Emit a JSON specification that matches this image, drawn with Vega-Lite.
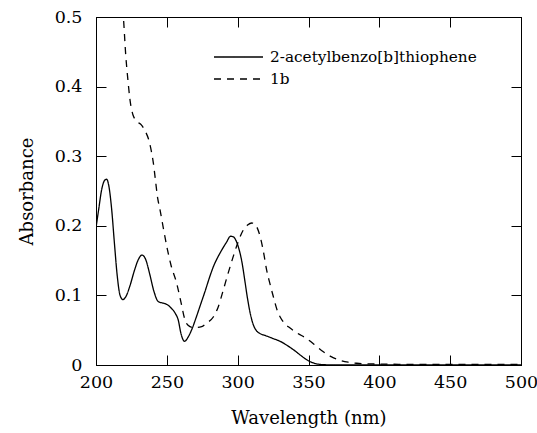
{
  "$schema": "https://vega.github.io/schema/vega-lite/v6.json",
  "width": 425,
  "height": 348,
  "autosize": {"type": "none"},
  "padding": {"left": 96, "top": 17, "right": 16, "bottom": 68},
  "background": "white",
  "config": {
    "view": {"stroke": "black", "strokeWidth": 1},
    "font": "DejaVu Serif",
    "axis": {
      "grid": false,
      "domainColor": "black",
      "tickColor": "black",
      "labelColor": "black",
      "titleColor": "black",
      "labelFont": "DejaVu Serif",
      "titleFont": "DejaVu Serif",
      "labelFontSize": 17.5,
      "titleFontSize": 18,
      "titleFontWeight": "normal",
      "tickSize": -10,
      "domainWidth": 1,
      "tickWidth": 1,
      "labelFlush": false,
      "labelOverlap": false
    }
  },
  "data": {
    "values": [
      {"w": 200, "A": 0.197, "s": "2-acetylbenzo[b]thiophene"},
      {"w": 202, "A": 0.225, "s": "2-acetylbenzo[b]thiophene"},
      {"w": 204, "A": 0.252, "s": "2-acetylbenzo[b]thiophene"},
      {"w": 206, "A": 0.265, "s": "2-acetylbenzo[b]thiophene"},
      {"w": 207.5, "A": 0.267, "s": "2-acetylbenzo[b]thiophene"},
      {"w": 209, "A": 0.258, "s": "2-acetylbenzo[b]thiophene"},
      {"w": 211, "A": 0.225, "s": "2-acetylbenzo[b]thiophene"},
      {"w": 213, "A": 0.175, "s": "2-acetylbenzo[b]thiophene"},
      {"w": 215, "A": 0.128, "s": "2-acetylbenzo[b]thiophene"},
      {"w": 217, "A": 0.1, "s": "2-acetylbenzo[b]thiophene"},
      {"w": 219, "A": 0.094, "s": "2-acetylbenzo[b]thiophene"},
      {"w": 221, "A": 0.098, "s": "2-acetylbenzo[b]thiophene"},
      {"w": 224, "A": 0.114, "s": "2-acetylbenzo[b]thiophene"},
      {"w": 227, "A": 0.135, "s": "2-acetylbenzo[b]thiophene"},
      {"w": 230, "A": 0.152, "s": "2-acetylbenzo[b]thiophene"},
      {"w": 232.5, "A": 0.158, "s": "2-acetylbenzo[b]thiophene"},
      {"w": 235, "A": 0.152, "s": "2-acetylbenzo[b]thiophene"},
      {"w": 238, "A": 0.13, "s": "2-acetylbenzo[b]thiophene"},
      {"w": 241, "A": 0.105, "s": "2-acetylbenzo[b]thiophene"},
      {"w": 244, "A": 0.091, "s": "2-acetylbenzo[b]thiophene"},
      {"w": 247, "A": 0.089, "s": "2-acetylbenzo[b]thiophene"},
      {"w": 250, "A": 0.087, "s": "2-acetylbenzo[b]thiophene"},
      {"w": 253, "A": 0.082, "s": "2-acetylbenzo[b]thiophene"},
      {"w": 256, "A": 0.074, "s": "2-acetylbenzo[b]thiophene"},
      {"w": 258, "A": 0.065, "s": "2-acetylbenzo[b]thiophene"},
      {"w": 260, "A": 0.045, "s": "2-acetylbenzo[b]thiophene"},
      {"w": 262.5, "A": 0.034, "s": "2-acetylbenzo[b]thiophene"},
      {"w": 265, "A": 0.04, "s": "2-acetylbenzo[b]thiophene"},
      {"w": 268, "A": 0.053, "s": "2-acetylbenzo[b]thiophene"},
      {"w": 271, "A": 0.07, "s": "2-acetylbenzo[b]thiophene"},
      {"w": 274, "A": 0.088, "s": "2-acetylbenzo[b]thiophene"},
      {"w": 277, "A": 0.106, "s": "2-acetylbenzo[b]thiophene"},
      {"w": 280, "A": 0.125, "s": "2-acetylbenzo[b]thiophene"},
      {"w": 283, "A": 0.142, "s": "2-acetylbenzo[b]thiophene"},
      {"w": 286, "A": 0.155, "s": "2-acetylbenzo[b]thiophene"},
      {"w": 289, "A": 0.166, "s": "2-acetylbenzo[b]thiophene"},
      {"w": 292, "A": 0.176, "s": "2-acetylbenzo[b]thiophene"},
      {"w": 295, "A": 0.185, "s": "2-acetylbenzo[b]thiophene"},
      {"w": 297, "A": 0.184, "s": "2-acetylbenzo[b]thiophene"},
      {"w": 299, "A": 0.178, "s": "2-acetylbenzo[b]thiophene"},
      {"w": 301, "A": 0.166, "s": "2-acetylbenzo[b]thiophene"},
      {"w": 303, "A": 0.148, "s": "2-acetylbenzo[b]thiophene"},
      {"w": 305, "A": 0.122, "s": "2-acetylbenzo[b]thiophene"},
      {"w": 307, "A": 0.095, "s": "2-acetylbenzo[b]thiophene"},
      {"w": 309, "A": 0.073, "s": "2-acetylbenzo[b]thiophene"},
      {"w": 311, "A": 0.058, "s": "2-acetylbenzo[b]thiophene"},
      {"w": 313, "A": 0.05, "s": "2-acetylbenzo[b]thiophene"},
      {"w": 316, "A": 0.045, "s": "2-acetylbenzo[b]thiophene"},
      {"w": 320, "A": 0.042, "s": "2-acetylbenzo[b]thiophene"},
      {"w": 325, "A": 0.038, "s": "2-acetylbenzo[b]thiophene"},
      {"w": 330, "A": 0.034, "s": "2-acetylbenzo[b]thiophene"},
      {"w": 335, "A": 0.028, "s": "2-acetylbenzo[b]thiophene"},
      {"w": 340, "A": 0.021, "s": "2-acetylbenzo[b]thiophene"},
      {"w": 345, "A": 0.013, "s": "2-acetylbenzo[b]thiophene"},
      {"w": 350, "A": 0.006, "s": "2-acetylbenzo[b]thiophene"},
      {"w": 355, "A": 0.002, "s": "2-acetylbenzo[b]thiophene"},
      {"w": 360, "A": 0.0005, "s": "2-acetylbenzo[b]thiophene"},
      {"w": 370, "A": 0, "s": "2-acetylbenzo[b]thiophene"},
      {"w": 400, "A": 0, "s": "2-acetylbenzo[b]thiophene"},
      {"w": 450, "A": 0, "s": "2-acetylbenzo[b]thiophene"},
      {"w": 500, "A": 0, "s": "2-acetylbenzo[b]thiophene"},
      {"w": 217.5, "A": 0.55, "s": "1b"},
      {"w": 219.5, "A": 0.495, "s": "1b"},
      {"w": 221, "A": 0.445, "s": "1b"},
      {"w": 222.5, "A": 0.41, "s": "1b"},
      {"w": 224, "A": 0.381, "s": "1b"},
      {"w": 226, "A": 0.36, "s": "1b"},
      {"w": 229, "A": 0.35, "s": "1b"},
      {"w": 232, "A": 0.345, "s": "1b"},
      {"w": 235, "A": 0.335, "s": "1b"},
      {"w": 237, "A": 0.325, "s": "1b"},
      {"w": 239, "A": 0.308, "s": "1b"},
      {"w": 240.5, "A": 0.29, "s": "1b"},
      {"w": 242, "A": 0.265, "s": "1b"},
      {"w": 243.5, "A": 0.24, "s": "1b"},
      {"w": 245, "A": 0.225, "s": "1b"},
      {"w": 247.5, "A": 0.197, "s": "1b"},
      {"w": 250, "A": 0.17, "s": "1b"},
      {"w": 253, "A": 0.143, "s": "1b"},
      {"w": 257, "A": 0.117, "s": "1b"},
      {"w": 260, "A": 0.09, "s": "1b"},
      {"w": 262.8, "A": 0.065, "s": "1b"},
      {"w": 265, "A": 0.057, "s": "1b"},
      {"w": 268, "A": 0.054, "s": "1b"},
      {"w": 271, "A": 0.054, "s": "1b"},
      {"w": 274.6, "A": 0.055, "s": "1b"},
      {"w": 278, "A": 0.06, "s": "1b"},
      {"w": 282.8, "A": 0.069, "s": "1b"},
      {"w": 286, "A": 0.082, "s": "1b"},
      {"w": 289.9, "A": 0.108, "s": "1b"},
      {"w": 293, "A": 0.13, "s": "1b"},
      {"w": 296.9, "A": 0.156, "s": "1b"},
      {"w": 300, "A": 0.175, "s": "1b"},
      {"w": 304, "A": 0.194, "s": "1b"},
      {"w": 307, "A": 0.201, "s": "1b"},
      {"w": 310, "A": 0.204, "s": "1b"},
      {"w": 313, "A": 0.2, "s": "1b"},
      {"w": 315.8, "A": 0.185, "s": "1b"},
      {"w": 318, "A": 0.165, "s": "1b"},
      {"w": 320.5, "A": 0.136, "s": "1b"},
      {"w": 323, "A": 0.115, "s": "1b"},
      {"w": 325.2, "A": 0.098, "s": "1b"},
      {"w": 328, "A": 0.078, "s": "1b"},
      {"w": 330, "A": 0.069, "s": "1b"},
      {"w": 333, "A": 0.06, "s": "1b"},
      {"w": 337, "A": 0.053, "s": "1b"},
      {"w": 342, "A": 0.046, "s": "1b"},
      {"w": 348.7, "A": 0.038, "s": "1b"},
      {"w": 355, "A": 0.028, "s": "1b"},
      {"w": 360.5, "A": 0.019, "s": "1b"},
      {"w": 366, "A": 0.012, "s": "1b"},
      {"w": 372, "A": 0.007, "s": "1b"},
      {"w": 378, "A": 0.004, "s": "1b"},
      {"w": 384, "A": 0.0025, "s": "1b"},
      {"w": 395, "A": 0.0015, "s": "1b"},
      {"w": 420, "A": 0.001, "s": "1b"},
      {"w": 450, "A": 0.001, "s": "1b"},
      {"w": 480, "A": 0.001, "s": "1b"},
      {"w": 500, "A": 0.001, "s": "1b"}
    ]
  },
  "layer": [
    {
      "mark": {"type": "line", "color": "black", "strokeWidth": 1.3, "clip": true, "interpolate": "monotone"},
      "encoding": {
        "x": {
          "field": "w", "type": "quantitative",
          "scale": {"domain": [200, 500], "nice": false},
          "axis": {"orient": "bottom", "values": [200, 250, 300, 350, 400, 450, 500], "title": "Wavelength (nm)", "labelPadding": 18, "titlePadding": 19}
        },
        "y": {
          "field": "A", "type": "quantitative",
          "scale": {"domain": [0, 0.5], "nice": false},
          "axis": {"orient": "left", "values": [0, 0.1, 0.2, 0.3, 0.4, 0.5], "title": "Absorbance", "labelExpr": "datum.value == 0 ? '0' : format(datum.value, '.1f')", "labelPadding": 24, "titlePadding": 18}
        },
        "strokeDash": {
          "field": "s", "type": "nominal",
          "scale": {"domain": ["2-acetylbenzo[b]thiophene", "1b"], "range": [[1, 0], [7, 6]]},
          "legend": {
            "title": null,
            "orient": "none",
            "legendX": 117,
            "legendY": 29,
            "symbolType": "stroke",
            "symbolSize": 2400,
            "symbolStrokeColor": "black",
            "symbolStrokeWidth": 1.3,
            "labelFont": "DejaVu Serif",
            "labelFontSize": 15.3,
            "labelColor": "black",
            "labelOffset": 6,
            "labelLimit": 0,
            "clipHeight": 22,
            "rowPadding": 0
          }
        }
      }
    },
    {
      "mark": {"type": "line", "opacity": 0},
      "encoding": {
        "x": {"field": "w", "type": "quantitative", "axis": {"orient": "top", "values": [200, 250, 300, 350, 400, 450, 500], "labels": false, "title": null}},
        "y": {"field": "A", "type": "quantitative", "axis": {"orient": "right", "values": [0, 0.1, 0.2, 0.3, 0.4, 0.5], "labels": false, "title": null}}
      }
    }
  ],
  "resolve": {"axis": {"x": "independent", "y": "independent"}}
}
